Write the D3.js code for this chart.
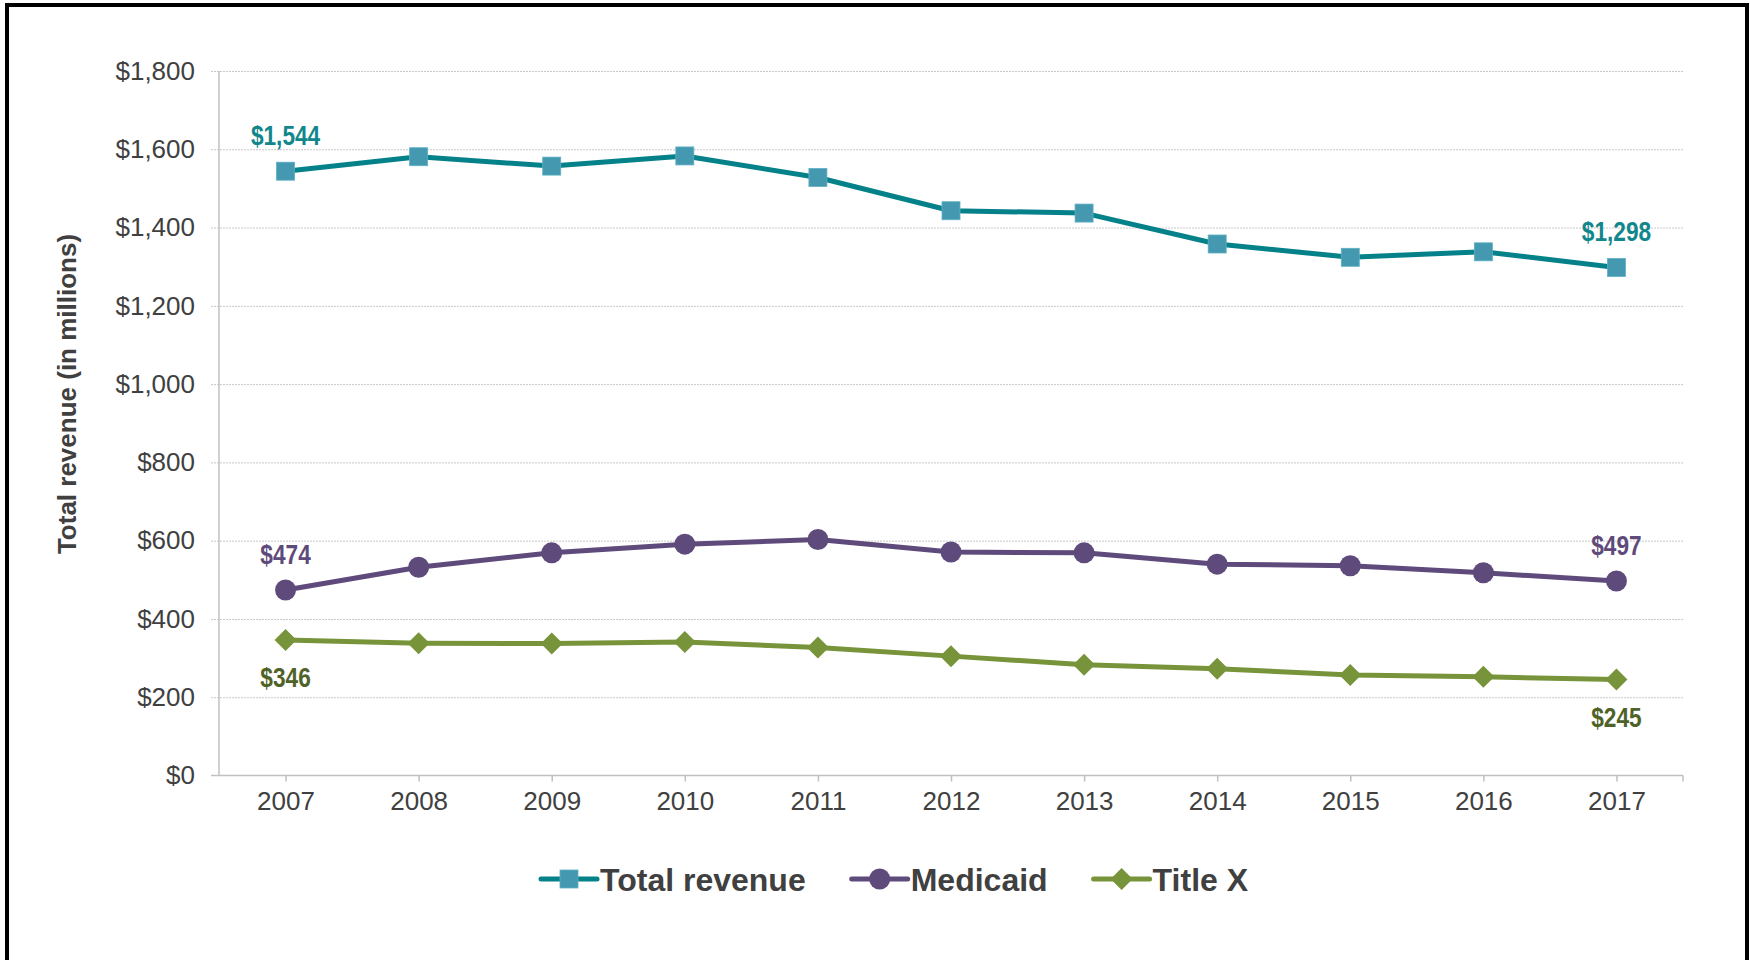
<!DOCTYPE html>
<head>
  <meta charset="utf-8">
  <title>revenue.html</title>
</head>
<style>
body { margin: 0; background: #fff; }
svg { display: block; font-family: "Liberation Sans", Arial, sans-serif; }
.grid line { stroke: #c8c8c8; stroke-dasharray: 2,1; }
.tick text { fill: #404040; font-size: 26px; }
</style>
<svg width="1750" height="960"></svg>
<script src="https://d3js.org/d3.v7.min.js"></script>
<script>
var years = ["2007", "2008", "2009", "2010", "2011", "2012", "2013", "2014", "2015", "2016", "2017"];
var totalRevenue = [1544, 1581, 1557, 1583, 1528, 1443, 1437, 1358, 1324, 1338, 1298];
var medicaid = [474, 532, 569, 591, 603, 571, 569, 540, 536, 518, 497];
var titleX = [346, 338, 337, 341, 327, 305, 283, 273, 257, 252, 245];
var yTicks = [0, 200, 400, 600, 800, 1000, 1200, 1400, 1600, 1800];

var series = [
  { name: "Total revenue", values: totalRevenue, line: "#05818a", marker: "#4499b1", label: "#11878c", shape: "square", labelPos: ["above", "above"] },
  { name: "Medicaid", values: medicaid, line: "#5f4a7c", marker: "#5f4a7c", label: "#5f4a7c", shape: "circle", labelPos: ["above", "above"] },
  { name: "Title X", values: titleX, line: "#77943b", marker: "#77943b", label: "#4f6228", shape: "diamond", labelPos: ["below", "below"] }
];

var svg = d3.select("svg"),
    plot = { left: 219, right: 1683, top: 71, bottom: 775.5 };

// frame
svg.append("rect")
    .attr("x", 7).attr("y", 5)
    .attr("width", 1740).attr("height", 1000)
    .attr("fill", "none").attr("stroke", "#000").attr("stroke-width", 4);

var x = d3.scalePoint().domain(years).range([plot.left, plot.right]).padding(0.5);
var y = d3.scaleLinear().domain([0, 1800]).range([plot.bottom, plot.top]);

// gridlines + y labels
var yAxis = svg.append("g")
    .attr("class", "grid")
    .attr("transform", "translate(" + (plot.left - 8) + ",0)")
    .call(d3.axisLeft(y).tickValues(yTicks)
      .tickSize(-(plot.right - plot.left + 8))
      .tickPadding(16)
      .tickFormat(function(d) { return "$" + d3.format(",")(d); }));
yAxis.select(".domain").remove();
yAxis.selectAll(".tick").filter(function(d) { return d === 0; }).select("line").remove();

// y axis line
svg.append("line")
    .attr("x1", plot.left).attr("x2", plot.left)
    .attr("y1", plot.top).attr("y2", plot.bottom)
    .attr("stroke", "#c0c0c0").attr("stroke-width", 1.5);

// x axis
var xAxis = svg.append("g")
    .attr("transform", "translate(0," + plot.bottom + ")")
    .call(d3.axisBottom(x).tickSize(6).tickPadding(10));
xAxis.select(".domain").remove();
xAxis.selectAll(".tick line").attr("stroke", "#c0c0c0").attr("stroke-width", 1.5);
xAxis.append("line")
    .attr("x1", plot.left - 8).attr("x2", plot.right)
    .attr("stroke", "#c0c0c0").attr("stroke-width", 1.5);
xAxis.append("line")
    .attr("x1", plot.right).attr("x2", plot.right).attr("y2", 6)
    .attr("stroke", "#c0c0c0").attr("stroke-width", 1.5);

// y axis title
svg.append("text")
    .attr("transform", "translate(76,394) rotate(-90)")
    .attr("text-anchor", "middle")
    .attr("font-size", 26)
    .attr("font-weight", "bold")
    .attr("fill", "#404040")
    .text("Total revenue (in millions)");

function drawMarker(g, shape, color) {
  if (shape === "square") {
    g.append("rect").attr("x", -9).attr("y", -9).attr("width", 18).attr("height", 18)
      .attr("fill", color).attr("stroke", "#5fb0c4").attr("stroke-width", 0.8);
  } else if (shape === "circle") {
    g.append("circle").attr("r", 10.5).attr("fill", color);
  } else {
    g.append("path").attr("d", "M0,-11L11,0L0,11L-11,0Z").attr("fill", color);
  }
}

var line = d3.line()
    .x(function(d, i) { return x(years[i]); })
    .y(function(d) { return y(d); });

series.forEach(function(s) {
  svg.append("path")
      .datum(s.values)
      .attr("fill", "none")
      .attr("stroke", s.line)
      .attr("stroke-width", 5)
      .attr("stroke-linejoin", "round")
      .attr("d", line);

  s.values.forEach(function(v, i) {
    var g = svg.append("g").attr("transform", "translate(" + x(years[i]) + "," + y(v) + ")");
    drawMarker(g, s.shape, s.marker);
  });

  // end labels (first and last years)
  [0, s.values.length - 1].forEach(function(i, k) {
    var v = s.values[i];
    var dy = s.labelPos[k] === "above" ? -26 : 47;
    svg.append("text")
        .attr("transform", "translate(" + x(years[i]) + "," + (y(v) + dy) + ") scale(0.84,1)")
        .attr("text-anchor", "middle")
        .attr("font-size", 27)
        .attr("font-weight", "bold")
        .attr("fill", s.label)
        .text("$" + d3.format(",")(v));
  });
});

// legend
var lx = 541, ly = 879;
series.forEach(function(s) {
  var g = svg.append("g").attr("transform", "translate(" + lx + "," + ly + ")");
  g.append("line").attr("x1", 0).attr("x2", 56)
      .attr("stroke", s.line).attr("stroke-width", 5).attr("stroke-linecap", "round");
  var m = g.append("g").attr("transform", "translate(28,0)");
  drawMarker(m, s.shape, s.marker);
  var t = g.append("text")
      .attr("x", 59).attr("dy", "0.36em")
      .attr("font-size", 32)
      .attr("font-weight", "bold")
      .attr("fill", "#404040")
      .text(s.name);
  lx += 59 + t.node().getComputedTextLength() + 46;
});
</script>
